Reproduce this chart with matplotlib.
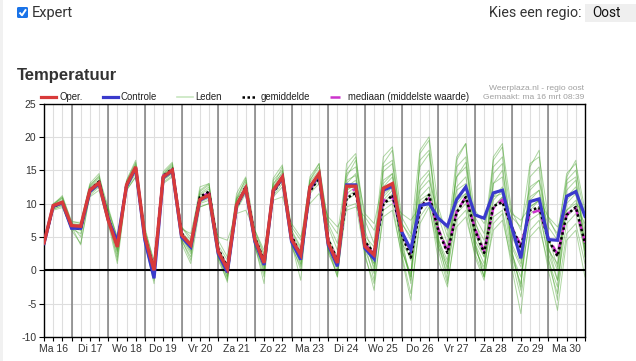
import matplotlib
matplotlib.use('Agg')
import matplotlib.pyplot as plt
from matplotlib.lines import Line2D
from matplotlib.patches import FancyBboxPatch, Rectangle
import pandas as pd

plt.rcParams['font.family'] = ['Liberation Sans', 'DejaVu Sans']

# ---------------- data ----------------
times = pd.date_range('2026-03-16 06:00', periods=60, freq='6h')
day_labels = ['Ma 16', 'Di 17', 'Wo 18', 'Do 19', 'Vr 20', 'Za 21', 'Zo 22',
              'Ma 23', 'Di 24', 'Wo 25', 'Do 26', 'Vr 27', 'Za 28', 'Zo 29', 'Ma 30']
day_noon = pd.date_range('2026-03-16 12:00', periods=15, freq='D')
midnights = pd.date_range('2026-03-17 00:00', periods=14, freq='D')
y_ticks = [-10, -5, 0, 5, 10, 15, 20, 25]

oper = [4.1, 9.7, 10.2,
        6.7, 6.6, 12.0, 13.1,
        7.5, 3.5, 12.8, 15.5,
        5.0, 0.0, 14.0, 15.0,
        5.3, 3.8, 10.6, 11.3,
        2.8, 0.2, 9.8, 12.3,
        4.6, 1.1, 12.0, 14.0,
        4.6, 2.3, 12.5, 14.5,
        4.1, 1.1, 12.6, 12.6,
        3.6, 2.3, 12.3, 13.0,
        6.0]

controle = [4.0, 9.6, 10.1,
            6.3, 6.3, 11.8, 13.0,
            7.6, 4.3, 12.6, 15.3,
            4.5, -1.2, 13.9, 14.9,
            5.0, 3.5, 10.5, 11.2,
            2.5, -0.3, 9.7, 12.2,
            4.3, 0.8, 11.9, 13.9,
            4.3, 1.6, 12.4, 14.3,
            3.8, 0.6, 12.8, 12.8,
            3.3, 1.7, 12.0, 12.6,
            5.8, 3.1, 9.7, 10.0,
            7.8, 6.6, 10.6, 12.5,
            8.3, 7.8, 11.6, 12.0,
            6.5, 1.8, 10.3, 10.7,
            4.6, 4.5, 11.1, 11.8,
            8.1]

gemiddelde = [4.0, 9.5, 10.2,
              6.4, 6.2, 12.0, 13.3,
              7.8, 3.8, 12.9, 15.3,
              5.0, 0.2, 14.1, 15.2,
              5.6, 3.5, 11.0, 11.8,
              3.2, 0.5, 9.4, 12.6,
              4.9, 1.4, 11.6, 13.8,
              5.2, 2.2, 11.8, 13.9,
              4.6, 1.5, 10.8, 11.6,
              4.3, 2.6, 9.8, 11.3,
              5.5, 1.9, 9.0, 11.3,
              6.0, 2.6, 8.6, 11.0,
              6.0, 2.6, 9.6, 10.2,
              6.5, 3.4, 9.0, 9.4,
              4.6, 2.1, 8.3, 9.5,
              4.0]

mediaan = [4.0, 9.6, 10.1,
           6.5, 6.4, 12.1, 13.2,
           7.9, 3.9, 12.8, 15.2,
           5.0, 0.3, 14.2, 15.1,
           5.5, 3.7, 10.9, 11.6,
           3.0, 0.4, 9.6, 12.5,
           4.8, 1.3, 11.8, 14.0,
           5.0, 2.3, 12.1, 14.2,
           4.4, 1.4, 11.6, 12.2,
           4.0, 2.4, 10.4, 11.0,
           5.8, 2.6, 9.5, 10.8,
           6.2, 2.8, 8.8, 11.0,
           6.3, 2.8, 9.3, 10.6,
           6.5, 3.8, 8.5, 9.0,
           4.9, 2.4, 8.4, 9.3,
           4.2]

leden = [
    [4.3, 9.9, 10.8, 7.0, 6.8, 12.5, 13.8, 8.8, 4.0, 13.2, 16.0, 5.5, 0.5, 14.3, 15.6,
     5.8, 4.2, 11.3, 12.2, 3.4, 0.8, 10.5, 13.2, 5.2, 1.8, 12.5, 14.8, 5.3, 2.9, 13.2, 15.0,
     5.0, 2.0, 13.5, 14.2, 5.1, 3.5, 14.8, 16.0, 7.2, 4.5, 15.5, 17.5, 8.0, 4.0, 14.0, 16.2,
     7.5, 3.0, 13.0, 15.0, 6.0, 1.5, 12.0, 13.5, 5.0, 0.5, 11.0, 12.5, 6.0],
    [3.8, 9.2, 9.6, 6.0, 4.0, 11.2, 12.5, 7.5, 2.0, 12.2, 14.5, 4.0, -1.5, 13.5, 14.5,
     4.5, 2.0, 10.0, 10.5, 2.0, -1.0, 9.0, 11.5, 3.5, 0.0, 11.0, 12.5, 3.5, 0.5, 11.5, 13.0,
     2.5, -0.5, 9.5, 10.0, 2.0, -2.0, 8.0, 9.0, 2.5, -3.5, 7.0, 9.5, 3.0, -2.0, 6.5, 8.0,
     2.5, -1.0, 6.0, 7.5, 1.5, -4.0, 5.0, 6.5, 1.0, -3.5, 5.5, 7.0, 1.0],
    [4.0, 9.6, 10.4, 6.8, 6.6, 12.4, 13.5, 8.2, 3.2, 12.6, 15.2, 5.0, 0.0, 14.0, 15.2,
     5.5, 3.8, 10.8, 11.8, 3.2, 0.5, 10.0, 12.8, 5.5, 1.5, 12.8, 15.5, 6.0, 3.5, 14.0, 16.0,
     6.5, 3.0, 15.0, 17.0, 7.5, 4.0, 17.0, 18.5, 8.0, 5.5, 18.0, 20.0, 9.5, 5.0, 17.0, 19.0,
     8.0, 5.5, 16.5, 18.5, 9.0, 6.0, 16.0, 17.0, 8.0, 5.0, 14.5, 16.0, 9.0],
    [4.2, 9.4, 10.0, 6.5, 6.4, 11.8, 13.0, 9.0, 5.0, 12.0, 14.0, 6.0, 1.5, 13.2, 14.2,
     6.5, 5.0, 9.5, 10.0, 5.0, 4.5, 8.5, 9.0, 6.0, 3.0, 10.5, 11.0, 7.0, 5.0, 10.0, 11.5,
     8.0, 6.5, 9.0, 9.5, 8.0, 6.0, 10.0, 10.5, 8.5, 7.5, 9.5, 10.0, 8.0, 6.5, 10.5, 11.5,
     9.0, 7.0, 11.0, 11.5, 8.5, 7.5, 9.5, 10.5, 8.0, 6.5, 9.0, 10.0, 8.5],
    [3.6, 9.8, 11.2, 7.2, 7.2, 13.0, 14.5, 8.0, 3.5, 13.5, 16.5, 5.0, -0.5, 14.5, 16.0,
     5.0, 3.0, 12.0, 13.0, 2.5, -0.5, 11.0, 13.5, 4.0, 0.5, 13.5, 15.0, 4.5, 1.0, 12.5, 14.5,
     3.5, 0.5, 16.0, 17.5, 5.0, 0.0, 15.5, 16.5, 4.0, -1.0, 16.5, 18.0, 5.0, 0.0, 15.5, 17.0,
     4.0, -1.0, 14.5, 16.0, 3.0, -2.5, 14.0, 15.5, 3.5, -1.5, 13.0, 14.0, 3.0],
    [3.9, 9.0, 9.4, 6.2, 5.5, 11.0, 12.0, 7.0, 1.0, 12.0, 14.0, 4.5, -1.0, 13.0, 14.0,
     4.0, 1.0, 9.5, 10.0, 1.5, -1.5, 9.5, 12.0, 3.5, -1.0, 11.5, 13.5, 4.0, 0.0, 12.0, 14.0,
     3.0, 0.0, 12.0, 13.0, 3.5, 1.0, 11.0, 12.5, 3.0, -1.0, 12.5, 14.5, 4.0, 1.0, 12.0, 13.0,
     4.5, 2.0, 13.0, 14.0, 4.0, 1.0, 11.0, 12.0, 3.5, 0.0, 12.0, 13.5, 4.0],
    [4.4, 10.0, 11.0, 7.4, 7.0, 12.8, 14.0, 9.5, 4.8, 12.8, 15.6, 6.5, 1.0, 14.8, 16.2,
     6.5, 4.5, 12.5, 13.0, 3.8, 1.5, 11.5, 14.0, 6.0, 2.5, 13.0, 14.5, 6.5, 4.5, 13.5, 15.5,
     7.0, 4.0, 12.5, 13.5, 6.0, 2.0, 12.5, 14.0, 6.0, 2.5, 13.5, 15.0, 6.5, 3.0, 11.0, 12.5,
     5.5, 2.0, 9.5, 11.0, 7.0, 3.5, 10.5, 12.0, 6.5, 4.5, 8.0, 9.5, 7.0],
    [3.7, 9.3, 10.0, 6.6, 3.8, 11.5, 12.8, 8.4, 2.5, 12.5, 15.0, 4.8, -0.8, 13.8, 14.8,
     5.2, 3.2, 10.5, 11.0, 2.8, 0.0, 10.2, 12.5, 4.8, 0.8, 12.0, 14.0, 5.0, 2.0, 12.2, 14.2,
     4.0, 1.5, 10.5, 11.5, 4.0, 0.5, 10.0, 11.5, 3.5, -1.5, 9.5, 11.5, 3.5, -0.5, 9.0, 10.5,
     3.0, 0.5, 8.0, 9.0, 2.0, -2.0, 8.5, 9.5, 1.5, -2.5, 10.0, 11.5, 2.0],
    [4.1, 9.7, 10.6, 6.9, 6.9, 12.2, 13.4, 8.6, 3.8, 13.0, 15.8, 5.2, 0.2, 14.2, 15.4,
     5.6, 4.0, 11.0, 11.6, 3.0, 0.2, 9.8, 12.4, 5.0, 1.2, 12.4, 14.2, 5.2, 2.4, 12.8, 14.6,
     4.5, 1.0, 13.0, 14.5, 4.5, 2.5, 13.0, 14.5, 5.0, 1.5, 11.0, 12.5, 6.0, 3.5, 12.5, 14.0,
     6.5, 3.0, 11.0, 12.5, 5.0, 2.5, 9.0, 10.5, 4.5, 2.0, 10.5, 12.0, 5.0],
    [3.5, 9.1, 9.8, 6.4, 6.2, 11.6, 12.6, 7.8, 1.5, 12.4, 14.8, 4.2, -2.0, 13.6, 14.6,
     4.8, 2.5, 10.2, 10.8, 2.2, -1.2, 9.2, 11.8, 4.2, -0.5, 11.2, 13.0, 4.2, 0.8, 11.8, 13.5,
     3.5, -1.0, 11.0, 12.0, 2.5, -3.0, 9.0, 10.0, 2.0, -4.5, 8.0, 10.0, 1.5, -2.5, 7.5, 9.0,
     2.0, -1.5, 7.0, 8.5, 0.5, -6.5, 6.0, 7.5, 0.0, -6.0, 4.5, 6.0, -1.0],
    [4.0, 9.5, 10.3, 7.0, 6.0, 12.0, 13.2, 9.2, 4.5, 13.0, 15.0, 6.0, 0.8, 14.0, 15.0,
     6.2, 5.5, 11.5, 12.5, 4.5, 2.0, 10.8, 12.0, 5.8, 2.2, 12.0, 13.5, 5.8, 3.2, 12.5, 14.0,
     7.5, 5.5, 14.5, 15.5, 8.5, 7.0, 13.5, 14.5, 7.0, 5.0, 12.0, 13.5, 8.5, 6.0, 14.0, 15.5,
     7.0, 4.5, 15.5, 17.0, 8.0, 6.5, 12.5, 13.5, 7.5, 5.5, 13.5, 15.0, 8.0],
    [4.2, 9.6, 10.2, 6.6, 6.5, 12.1, 13.3, 8.5, 3.6, 12.9, 15.4, 5.1, 0.1, 14.1, 15.1,
     5.4, 3.6, 10.7, 11.5, 2.9, 0.4, 10.0, 12.3, 4.7, 1.3, 12.3, 14.0, 4.9, 2.2, 12.6, 14.4,
     4.2, 1.2, 12.0, 12.8, 3.5, 1.0, 11.5, 12.5, 4.0, 2.0, 10.5, 11.5, 4.5, 1.5, 10.0, 11.5,
     4.0, 1.0, 10.5, 12.0, 3.5, 0.5, 9.5, 10.5, 3.0, 1.0, 9.0, 10.5, 3.5],
    [3.9, 9.8, 10.9, 6.8, 5.0, 12.6, 14.2, 8.0, 2.8, 13.4, 16.2, 4.6, -1.2, 14.4, 15.8,
     4.6, 1.5, 11.8, 12.8, 2.0, -1.8, 10.6, 13.8, 3.8, -2.0, 13.8, 15.8, 4.0, -1.5, 13.5, 16.0,
     3.0, -1.0, 14.0, 16.5, 4.0, -1.5, 16.0, 18.0, 5.0, -2.0, 17.5, 19.5, 4.5, -1.5, 16.5, 19.0,
     4.0, -1.0, 17.0, 19.0, 3.0, -3.0, 15.5, 18.0, 2.0, -4.5, 14.0, 16.5, 2.0],
    [4.1, 9.4, 9.9, 6.3, 6.0, 11.9, 12.9, 8.3, 3.0, 12.2, 15.2, 4.9, -0.3, 13.9, 15.0,
     5.0, 2.8, 10.4, 11.2, 2.6, -0.8, 9.6, 12.0, 4.4, 0.2, 11.6, 13.6, 4.6, 1.4, 12.0, 14.0,
     3.8, 0.5, 11.5, 12.5, 3.0, -0.5, 10.5, 12.0, 3.0, -0.5, 10.0, 11.0, 3.5, 0.5, 8.5, 10.0,
     3.5, 0.0, 9.5, 11.0, 2.5, -1.0, 7.5, 8.5, 2.5, -1.5, 7.0, 8.5, 3.0],
]

# ---------------- figure ----------------
W, H = 636, 361
fig = plt.figure(figsize=(W / 100, H / 100), dpi=100)
fig.patch.set_facecolor('white')


def fx(x):
    return x / W


def fy(y):
    return 1 - y / H


# page header
fig.patches.append(Rectangle((0, 0), fx(3), 1, transform=fig.transFigure,
                             fc='#f1f1f1', ec='none'))
fig.patches.append(FancyBboxPatch((fx(17), fy(18)), 11 / W, 11 / H,
                                  boxstyle='round,pad=0,rounding_size=0.003',
                                  transform=fig.transFigure, fc='#1a73e8', ec='none'))
fig.add_artist(Line2D([fx(19.5), fx(22), fx(26)], [fy(12.5), fy(15.3), fy(9.3)],
                      color='white', lw=1.4, transform=fig.transFigure,
                      solid_capstyle='butt'))
fig.text(fx(32), fy(12.5), 'Expert', fontsize=10.5, color='#333333', va='center',
         ha='left', family=['Roboto', 'DejaVu Sans'])
fig.text(fx(489), fy(12.5), 'Kies een regio:', fontsize=10.3, color='#333333',
         va='center', ha='left', family=['Roboto', 'DejaVu Sans'])
fig.patches.append(Rectangle((fx(585), fy(22)), 51 / W, 18 / H, transform=fig.transFigure,
                             fc='#efefef', ec='none'))
fig.text(fx(592), fy(13), 'Oost', fontsize=9.8, color='#111111', va='center',
         ha='left', family=['Roboto', 'DejaVu Sans'])
fig.text(fx(17), fy(75.5), 'Temperatuur', fontsize=12, fontweight='bold',
         color='#333333', va='center', ha='left')
fig.text(fx(584), fy(88.5), 'Weerplaza.nl - regio oost', fontsize=6.1,
         color='#a0a0a0', va='center', ha='right')
fig.text(fx(584), fy(97.5), 'Gemaakt: ma 16 mrt 08:39', fontsize=6.1,
         color='#a0a0a0', va='center', ha='right')

# axes
ax = fig.add_axes([fx(44), fy(337), (585 - 44) / W, (337 - 103.5) / H])
ax.set_axisbelow(True)

for member in leden:
    ax.plot(times, member, color='#3f9f22', lw=0.7, alpha=0.42, zorder=2)

ax.axhline(0, color='black', lw=1.5, zorder=2.5)
for t in midnights:
    ax.axvline(t, color='#808080', lw=1.1, zorder=1.5)

ax.plot(times, mediaan, color='#cc33cc', lw=1.8, ls=(0, (4, 2)), zorder=3)
ax.plot(times, gemiddelde, color='black', lw=1.8, ls=(0, (1, 1)), zorder=4)
ax.plot(times, controle, color='#3a3acc', lw=2.3, zorder=5, solid_joinstyle='miter')
ax.plot(times[:len(oper)], oper, color='#d83a3a', lw=2.4, zorder=6, solid_joinstyle='miter')

ax.set_xlim(times[0], times[-1])
ax.set_ylim(-10, 25)
ax.set_yticks(y_ticks)
ax.set_yticklabels([str(v) for v in y_ticks])
ax.set_xticks(day_noon)
ax.set_xticklabels(day_labels)
ax.set_xticks(times, minor=True)

ax.grid(axis='y', color='#dedede', lw=0.8)
ax.grid(axis='x', which='both', color='#dedede', lw=0.8)

ax.tick_params(axis='both', which='both', labelsize=7.5, labelcolor='#333333',
               color='black', width=0.8)
ax.tick_params(axis='y', length=3.5, pad=2)
ax.tick_params(axis='x', which='both', length=3, pad=2)
for s in ax.spines.values():
    s.set_color('black')
    s.set_linewidth(1.0)

# legend
handles = [
    Line2D([], [], color='#d83a3a', lw=2.3),
    Line2D([], [], color='#3a3acc', lw=2.3),
    Line2D([], [], color='#c8e6c0', lw=1.2),
    Line2D([], [], color='black', lw=1.8, ls=(0, (1, 1))),
    Line2D([], [], color='#cc33cc', lw=1.8, ls=(0, (4, 2))),
]
labels = ['Oper.', 'Controle', 'Leden', 'gemiddelde', 'mediaan (middelste waarde)']
fig.legend(handles, labels, ncol=5, frameon=False, fontsize=6.9,
           handlelength=1.6, handletextpad=0.3, columnspacing=2.1,
           borderpad=0, borderaxespad=0, loc='center left',
           bbox_to_anchor=(fx(41), fy(97.5)), labelcolor='#222222')

fig.savefig('out.png', dpi=100, facecolor='white')
